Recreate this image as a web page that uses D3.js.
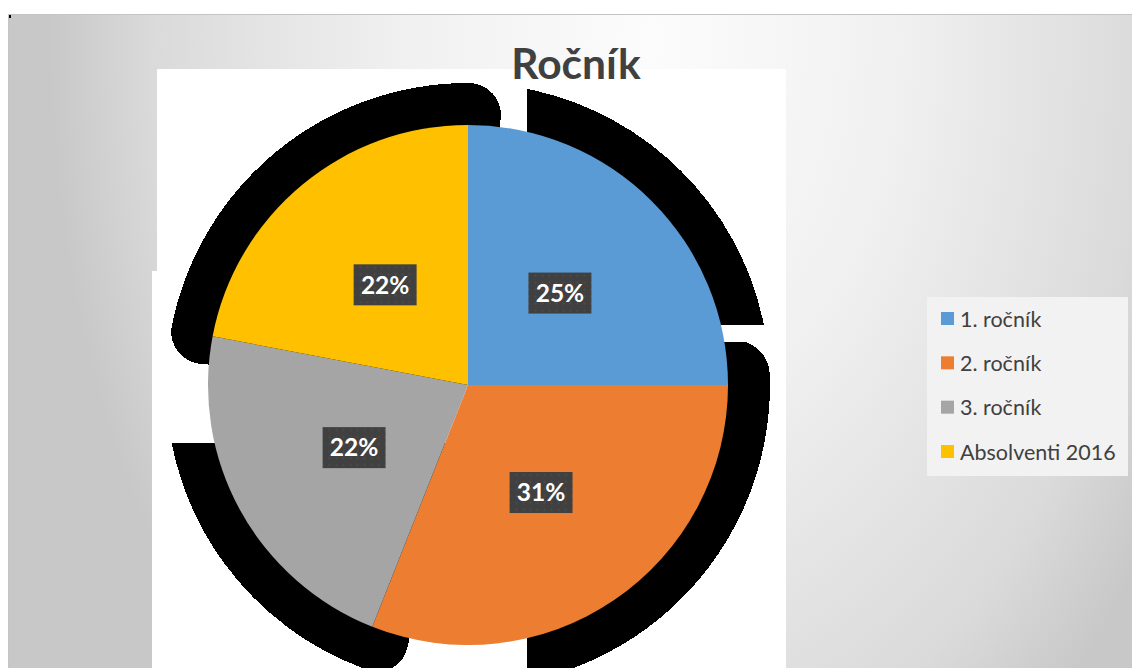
<!DOCTYPE html>
<html>
<head>
<meta charset="utf-8">
<script src="https://cdn.jsdelivr.net/npm/d3@7"></script>
<style>
  html, body { margin: 0; padding: 0; background: #ffffff; }
  svg { display: block; }
</style>
</head>
<body>
<svg id="chart" width="1132" height="668"></svg>
<script>
// ---- data ----
const categories = ["1. ročník", "2. ročník", "3. ročník", "Absolventi 2016"];
const values = [25, 31, 22, 22];
const labels = ["25%", "31%", "22%", "22%"];
const colors = ["#5B9BD5", "#ED7D31", "#A5A5A5", "#FFC000"];
const title = "Ročník";

// ---- layout ----
const W = 1132, H = 668;
const cx = 468, cy = 385, R = 260, shadowR = 302;
const FONT = "Lato, 'Open Sans', 'DejaVu Sans', sans-serif";

const svg = d3.select("#chart");
const defs = svg.append("defs");

// background radial (elliptical) gradient
const gcx = 650, gcy = 40;
const grad = defs.append("radialGradient")
  .attr("id", "bg").attr("gradientUnits", "userSpaceOnUse")
  .attr("cx", gcx).attr("cy", gcy).attr("r", 600).attr("fx", gcx).attr("fy", gcy)
  .attr("gradientTransform", `translate(${gcx},${gcy}) scale(1,1.5) translate(${-gcx},${-gcy})`);
[[0, "#fcfcfc"], [0.42, "#f0f0f0"], [0.83, "#dadada"], [1, "#c8c8c8"]].forEach(([o, c]) =>
  grad.append("stop").attr("offset", o).attr("stop-color", c));

// dotted label texture
const pat = defs.append("pattern").attr("id", "dots")
  .attr("width", 7).attr("height", 7).attr("patternUnits", "userSpaceOnUse");
pat.append("rect").attr("width", 7).attr("height", 7).attr("fill", "#404040");
pat.append("circle").attr("cx", 3.5).attr("cy", 3.5).attr("r", 1).attr("fill", "#4d4d4d");

// chart area
svg.append("rect").attr("x", 8).attr("y", 14).attr("width", W - 8).attr("height", H - 14)
  .attr("fill", "url(#bg)");
svg.append("line").attr("x1", 8).attr("x2", W).attr("y1", 14.5).attr("y2", 14.5)
  .attr("stroke", "#c4c4c4").attr("stroke-width", 1);
svg.append("line").attr("x1", 8.5).attr("x2", 8.5).attr("y1", 14).attr("y2", H)
  .attr("stroke", "#c4c4c4").attr("stroke-width", 1);
svg.append("rect").attr("x", 9).attr("y", 15).attr("width", 2).attr("height", 3).attr("fill", "#000");

// white plot area
svg.append("rect").attr("x", 157).attr("y", 69).attr("width", 786 - 157).attr("height", H - 69)
  .attr("fill", "#ffffff");
svg.append("rect").attr("x", 152).attr("y", 271).attr("width", 6).attr("height", H - 271)
  .attr("fill", "#ffffff");

// title
svg.append("text").attr("x", 576).attr("y", 79).attr("text-anchor", "middle")
  .attr("font-family", FONT).attr("font-weight", 700).attr("font-size", 42.5)
  .attr("fill", "#404040").text(title);

const g = svg.append("g").attr("transform", `translate(${cx},${cy})`);

// black shadow pieces (decoration of the original rendering)
const deg = Math.PI / 180;
const shadows = [
  { a0: 274.5, a1: 367, corner: 32, clip: null },
  { a0: 193, a1: 275, corner: 30, clip: { x0: -400, x1: 400, y0: 58, y1: 400 } },
  { a0: 80.4, a1: 200, corner: 35, clip: { x0: 59, x1: 400, y0: -43, y1: 400 } },
  { a0: -20, a1: 110, corner: 0, clip: { x0: 59, x1: 400, y0: -400, y1: -60 } }
];
const shArc = d3.arc().innerRadius(0).outerRadius(shadowR);
shadows.forEach((s, i) => {
  const p = g.append("path")
    .attr("d", shArc.cornerRadius(s.corner)({ startAngle: s.a0 * deg, endAngle: s.a1 * deg }))
    .attr("fill", "#000").attr("shape-rendering", "crispEdges");
  if (s.clip) {
    defs.append("clipPath").attr("id", "sc" + i)
      .append("rect").attr("x", s.clip.x0).attr("y", s.clip.y0)
      .attr("width", s.clip.x1 - s.clip.x0).attr("height", s.clip.y1 - s.clip.y0);
    p.attr("clip-path", `url(#sc${i})`);
  }
});

// pie
const pie = d3.pie().sort(null).value(d => d)(values);
const arc = d3.arc().innerRadius(0).outerRadius(R);
g.selectAll("path.slice").data(pie).join("path").attr("class", "slice")
  .attr("d", arc).attr("fill", (d, i) => colors[i]);

// data labels
const lblArc = d3.arc().innerRadius(R * 0.5).outerRadius(R * 0.5);
const lw = 63, lh = 41;
const lg = g.selectAll("g.lbl").data(pie).join("g").attr("class", "lbl")
  .attr("transform", d => `translate(${lblArc.centroid(d)})`);
lg.append("rect").attr("x", -lw / 2).attr("y", -lh / 2).attr("width", lw).attr("height", lh)
  .attr("fill", "url(#dots)");
lg.append("text").attr("text-anchor", "middle").attr("dy", "0.36em")
  .attr("font-family", FONT).attr("font-weight", 700).attr("font-size", 24.5)
  .attr("fill", "#ffffff").text((d, i) => labels[i]);

// legend
const leg = svg.append("g");
leg.append("rect").attr("x", 927).attr("y", 297).attr("width", 201).attr("height", 179)
  .attr("fill", "#f2f2f2");
const ly = d3.scalePoint().domain(categories).range([319, 452]);
const li = leg.selectAll("g.li").data(categories).join("g").attr("class", "li")
  .attr("transform", d => `translate(941,${ly(d)})`);
li.append("rect").attr("x", 0).attr("y", -7).attr("width", 13).attr("height", 13)
  .attr("fill", (d, i) => colors[i]);
li.append("text").attr("x", 19).attr("dy", "0.35em")
  .attr("font-family", FONT).attr("font-size", 21.5).attr("fill", "#404040").text(d => d);
</script>
</body>
</html>
